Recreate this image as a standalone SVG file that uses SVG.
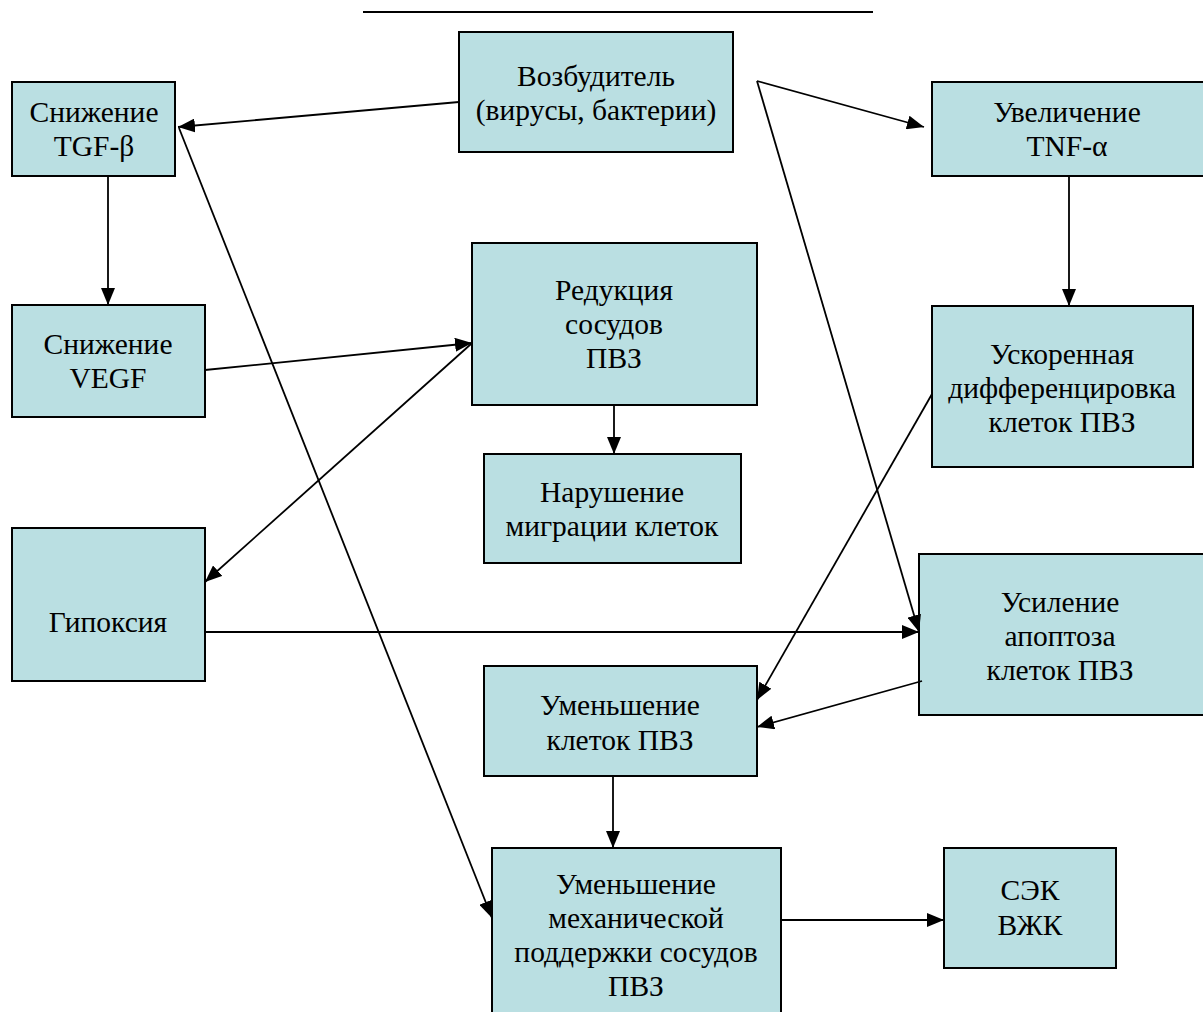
<svg xmlns="http://www.w3.org/2000/svg" width="1203" height="1012" viewBox="0 0 1203 1012">
<style>
.box{fill:#badfe2;stroke:#000;stroke-width:2}
.t{font-family:"Liberation Serif","Times New Roman","DejaVu Serif",serif;font-size:29.5px;fill:#000;text-anchor:middle}
.c{stroke:#000;stroke-width:1.8;fill:none}
.a{marker-end:url(#ah)}
</style>
<defs>
<marker id="ah" markerUnits="userSpaceOnUse" markerWidth="18" markerHeight="14" refX="17" refY="7" orient="auto">
<path d="M0,0 L17,7 L0,14 Z" fill="#000"/>
</marker>
</defs>
<rect width="1203" height="1012" fill="#fff"/>
<line x1="363" y1="12" x2="873" y2="12" stroke="#000" stroke-width="2"/>
<g id="n-vozbuditel"><rect class="box" x="459" y="32" width="274" height="120"/><text class="t" x="596" y="86">Возбудитель</text><text class="t" x="596" y="120">(вирусы, бактерии)</text></g>
<g id="n-tgf"><rect class="box" x="12" y="82" width="163" height="94"/><text class="t" x="94" y="122">Снижение</text><text class="t" x="94" y="156">TGF-β</text></g>
<g id="n-vegf"><rect class="box" x="12" y="305" width="193" height="112"/><text class="t" x="108" y="354">Снижение</text><text class="t" x="108" y="388">VEGF</text></g>
<g id="n-tnf"><rect class="box" x="932" y="82" width="272" height="94"/><text class="t" x="1067" y="122">Увеличение</text><text class="t" x="1067" y="156">TNF-α</text></g>
<g id="n-uskor"><rect class="box" x="932" y="306" width="261" height="161"/><text class="t" x="1062" y="364">Ускоренная</text><text class="t" x="1062" y="398">дифференцировка</text><text class="t" x="1062" y="432">клеток ПВЗ</text></g>
<g id="n-gipoksia"><rect class="box" x="12" y="528" width="193" height="153"/><text class="t" x="108" y="632">Гипоксия</text></g>
<g id="n-redukcia"><rect class="box" x="472" y="243" width="285" height="162"/><text class="t" x="614" y="300">Редукция</text><text class="t" x="614" y="334">сосудов</text><text class="t" x="614" y="368">ПВЗ</text></g>
<g id="n-narushenie"><rect class="box" x="484" y="454" width="257" height="109"/><text class="t" x="612" y="502">Нарушение</text><text class="t" x="612" y="536">миграции клеток</text></g>
<g id="n-usilenie"><rect class="box" x="919" y="554" width="290" height="161"/><text class="t" x="1060" y="612">Усиление</text><text class="t" x="1060" y="646">апоптоза</text><text class="t" x="1060" y="680">клеток ПВЗ</text></g>
<g id="n-umen-kletok"><rect class="box" x="484" y="666" width="273" height="110"/><text class="t" x="620" y="715">Уменьшение</text><text class="t" x="620" y="750">клеток ПВЗ</text></g>
<g id="n-umen-mech"><rect class="box" x="492" y="848" width="289" height="180"/><text class="t" x="636" y="894">Уменьшение</text><text class="t" x="636" y="928">механической</text><text class="t" x="636" y="962">поддержки сосудов</text><text class="t" x="636" y="996">ПВЗ</text></g>
<g id="n-sek"><rect class="box" x="944" y="848" width="172" height="120"/><text class="t" x="1030" y="900">СЭК</text><text class="t" x="1030" y="935">ВЖК</text></g>
<g id="connectors">
<line class="c a" x1="459" y1="102" x2="178" y2="127"/>
<line class="c a" x1="179" y1="128" x2="492" y2="918"/>
<line class="c a" x1="108" y1="176" x2="108" y2="305"/>
<line class="c a" x1="205" y1="370" x2="472" y2="343"/>
<line class="c a" x1="471" y1="344" x2="205" y2="582"/>
<line class="c a" x1="614" y1="405" x2="614" y2="454"/>
<line class="c a" x1="757" y1="81" x2="924" y2="127"/>
<line class="c a" x1="757" y1="81" x2="919" y2="632"/>
<line class="c a" x1="1069" y1="176" x2="1069" y2="306"/>
<line class="c a" x1="932" y1="394" x2="757" y2="700"/>
<line class="c a" x1="205" y1="632" x2="919" y2="632"/>
<line class="c a" x1="922" y1="681" x2="757" y2="727"/>
<line class="c a" x1="613" y1="776" x2="613" y2="848"/>
<line class="c a" x1="781" y1="920" x2="944" y2="920"/>
</g>
</svg>
